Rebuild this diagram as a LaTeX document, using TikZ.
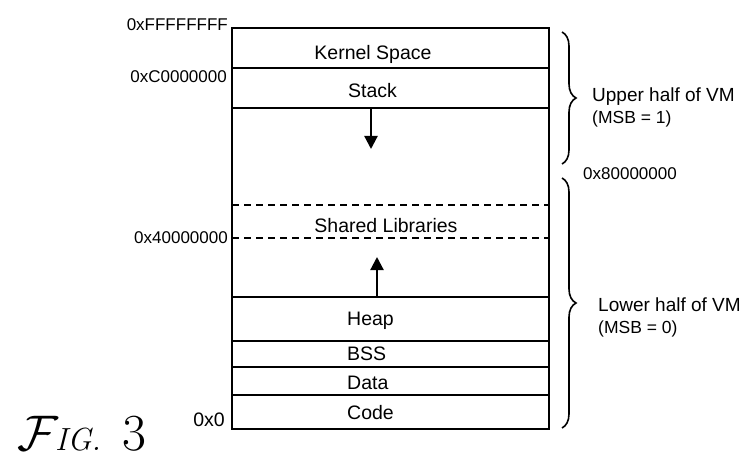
\documentclass[tikz,border=0pt]{standalone}
\usepackage{fontspec}
\newfontfamily\arial{Liberation Sans}
\usetikzlibrary{decorations.pathreplacing,arrows.meta}
\begin{document}
\begin{tikzpicture}[x=1pt,y=-1pt,
  box/.style={line width=1.6pt},
  dashline/.style={line width=1.4pt, dash pattern=on 7pt off 5pt},
  lbl/.style={font=\arial\fontsize{19.5}{20}\selectfont, inner sep=0pt, anchor=base},
  lbll/.style={font=\arial\fontsize{19.5}{20}\selectfont, inner sep=0pt, anchor=base west},
  addr/.style={font=\arial\fontsize{17}{18}\selectfont, inner sep=0pt, anchor=base east},
  side/.style={font=\arial\fontsize{19}{20}\selectfont, inner sep=0pt, anchor=base west},
  sidesm/.style={font=\arial\fontsize{17.5}{18}\selectfont, inner sep=0pt, anchor=base west},
  growarrow/.style={line width=2.2pt, -{Triangle[width=13pt,length=13pt]}},
  brc/.style={line width=1.6pt, decorate, decoration={brace, amplitude=14pt}},
  figtxt/.style={inner sep=0pt, anchor=base west}]
\useasboundingbox (0,0) rectangle (747,468);
% memory box
\draw[box] (232,28) rectangle (549,429);
\foreach \yy in {68,108,297,341,367,395} \draw[box] (232,\yy) -- (549,\yy);
\draw[dashline] (232,205) -- (549,205);
\draw[dashline] (232,238) -- (549,238);
% region labels
\node[lbl]  (kern)  at (373,60)    {Kernel Space};
\node[lbll] (stack) at (348,98)    {Stack};
\node[lbl]  (shlib) at (386,232)   {Shared Libraries};
\node[lbll] (heap)  at (347,325)   {Heap};
\node[lbll] (bss)   at (347,360.5) {BSS};
\node[lbll] (data)  at (347,389)   {Data};
\node[lbll] (code)  at (347,419)   {Code};
% growth arrows
\coordinate (s0) at (371,108);
\coordinate (s1) at (371,149);
\draw[growarrow] (s0) -- (s1);
\coordinate (h0) at (377,297);
\coordinate (h1) at (377,257);
\draw[growarrow] (h0) -- (h1);
% addresses
\node[addr] (aff) at (228,30.5) {0xFFFFFFFF};
\node[addr] (ac0) at (227,83)   {0xC0000000};
\node[addr] (a40) at (228,243)  {0x40000000};
\node[addr, font=\arial\fontsize{19.5}{20}\selectfont] (a00) at (225,426) {0x0};
\node[font=\arial\fontsize{17}{18}\selectfont, inner sep=0pt, anchor=base west] (a80) at (583,179) {0x80000000};
% braces
\coordinate (bu0) at (562,32);
\coordinate (bu1) at (562,164);
\draw[brc] (bu0) -- (bu1);
\coordinate (bl0) at (562,178);
\coordinate (bl1) at (562,428);
\draw[brc] (bl0) -- (bl1);
\node[side]   (up1) at (592,101.5) {Upper half of VM};
\node[sidesm] (up2) at (592,123.5) {(MSB = 1)};
\node[side]   (lo1) at (598,311)   {Lower half of VM};
\node[sidesm] (lo2) at (598,333)   {(MSB = 0)};
% figure label
\node[figtxt, scale=5] (figF) at (16,450) {$\mathcal{F}$};
\node[figtxt] (figIG) at (55,450) {\fontsize{32}{32}\selectfont\itshape IG.};
\node[figtxt] (fig3) at (122,450) {\fontsize{52}{52}\selectfont 3};
\end{tikzpicture}
\end{document}
